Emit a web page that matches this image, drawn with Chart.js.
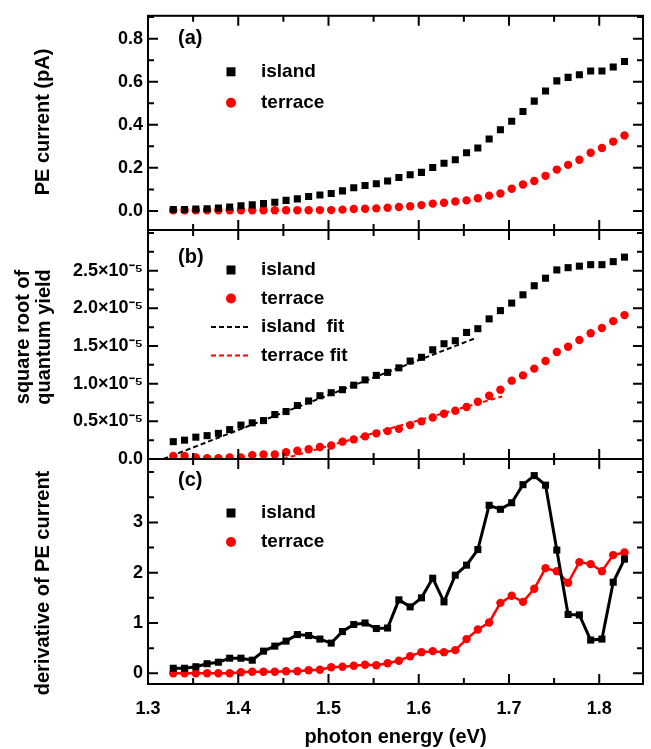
<!DOCTYPE html>
<html>
<head>
<meta charset="utf-8">
<script src="https://cdn.jsdelivr.net/npm/chart.js@4/dist/chart.umd.min.js"></script>
<style>
  body { margin: 0; background: #fff; }
  .wrap { position: relative; width: 651px; height: 749px; }
  canvas { position: absolute; left: 0; top: 0; }
</style>
</head>
<body>
<div class="wrap">
  <canvas id="panel-a" width="651" height="749"></canvas>
  <canvas id="panel-b" width="651" height="749"></canvas>
  <canvas id="panel-c" width="651" height="749"></canvas>
</div>
<script>
// photon energies of the measurement (eV)
const energy = [
  1.328, 1.3405, 1.353, 1.3655, 1.378, 1.3905, 1.403, 1.4155, 1.428, 1.4405,
  1.453, 1.4655, 1.478, 1.4905, 1.503, 1.5155, 1.528, 1.5405, 1.553, 1.5655,
  1.578, 1.5905, 1.603, 1.6155, 1.628, 1.6405, 1.653, 1.6655, 1.678, 1.6905,
  1.703, 1.7155, 1.728, 1.7405, 1.753, 1.7655, 1.778, 1.7905, 1.803, 1.8155, 1.828
]

// (a) PE current (pA)
const islandCurrent = [
  0.007, 0.007, 0.009, 0.010, 0.013, 0.018, 0.024, 0.028, 0.034, 0.040,
  0.049, 0.056, 0.067, 0.074, 0.081, 0.093, 0.108, 0.118, 0.126, 0.139,
  0.155, 0.168, 0.179, 0.202, 0.221, 0.238, 0.270, 0.292, 0.334, 0.377,
  0.416, 0.462, 0.510, 0.557, 0.604, 0.620, 0.632, 0.650, 0.650, 0.668, 0.694
]
const terraceCurrent = [
  0.003, 0.003, 0.003, 0.003, 0.003, 0.003, 0.003, 0.003, 0.003, 0.003,
  0.003, 0.003, 0.003, 0.004, 0.004, 0.006, 0.009, 0.010, 0.012, 0.015,
  0.018, 0.022, 0.027, 0.034, 0.038, 0.044, 0.049, 0.059, 0.071, 0.081,
  0.103, 0.123, 0.139, 0.163, 0.192, 0.214, 0.238, 0.270, 0.292, 0.322, 0.350
]

// (b) square root of quantum yield, in units of 1e-5
const islandRootYield = [
  0.23, 0.25, 0.29, 0.31, 0.34, 0.39, 0.45, 0.48, 0.51, 0.59,
  0.63, 0.71, 0.77, 0.84, 0.88, 0.92, 0.98, 1.05, 1.11, 1.15,
  1.21, 1.30, 1.35, 1.45, 1.53, 1.57, 1.68, 1.73, 1.86, 1.97,
  2.07, 2.18, 2.30, 2.40, 2.51, 2.54, 2.56, 2.58, 2.58, 2.62, 2.68
]
const terraceRootYield = [
  0.04, 0.04, 0.02, 0.01, 0.01, 0.02, 0.02, 0.05, 0.06, 0.06,
  0.09, 0.11, 0.13, 0.16, 0.18, 0.23, 0.26, 0.30, 0.34, 0.37,
  0.40, 0.45, 0.50, 0.55, 0.60, 0.64, 0.69, 0.76, 0.84, 0.92,
  1.04, 1.11, 1.20, 1.30, 1.42, 1.49, 1.58, 1.67, 1.74, 1.83, 1.91
]
const islandFitX = [1.317, 1.662]
const islandFitY = [0, 1.60]
const terraceFitX = [1.4495, 1.6925]
const terraceFitY = [0, 0.83]

// (c) derivative of PE current
const islandDerivative = [
  0.10, 0.10, 0.13, 0.19, 0.22, 0.30, 0.30, 0.26, 0.44, 0.54,
  0.64, 0.77, 0.75, 0.68, 0.60, 0.83, 0.97, 1.00, 0.89, 0.90,
  1.46, 1.32, 1.50, 1.89, 1.42, 1.95, 2.15, 2.46, 3.34, 3.26,
  3.39, 3.75, 3.93, 3.74, 2.45, 1.17, 1.16, 0.66, 0.68, 1.81, 2.27
]
const terraceDerivative = [
  0.00, 0.00, 0.00, 0.00, 0.00, 0.00, 0.02, 0.03, 0.03, 0.03,
  0.04, 0.04, 0.06, 0.07, 0.12, 0.13, 0.15, 0.17, 0.16, 0.20,
  0.25, 0.34, 0.42, 0.44, 0.42, 0.46, 0.68, 0.87, 1.01, 1.40,
  1.54, 1.42, 1.68, 2.09, 2.03, 1.80, 2.21, 2.17, 2.03, 2.35, 2.40
]

// tick values and their labels
const xTicks = [1.3, 1.4, 1.5, 1.6, 1.7, 1.8]
const xTickLabels = ['1.3', '1.4', '1.5', '1.6', '1.7', '1.8']
const currentTicks = [0, 0.2, 0.4, 0.6, 0.8]
const currentTickLabels = ['0.0', '0.2', '0.4', '0.6', '0.8']
const yieldTicks = [0, 0.5, 1, 1.5, 2, 2.5]
const yieldTickLabels = ['0.0', '0.5×10⁻⁵', '1.0×10⁻⁵', '1.5×10⁻⁵', '2.0×10⁻⁵', '2.5×10⁻⁵']
const derivTicks = [0, 1, 2, 3]
const derivTickLabels = ['0', '1', '2', '3']

const FONT = "'Liberation Sans', Arial, sans-serif"
const RED = '#ff0000'

Chart.defaults.font.family = FONT
Chart.defaults.color = '#000'

/**
 * Pairs x and y arrays into point objects.
 */
function points (xs, ys) {
  return xs.map((x, i) => ({ x, y: ys[i] }))
}

/**
 * Draws the boxed frame with inward major and minor ticks on all sides.
 */
const framePlugin = {
  id: 'frame',
  afterDraw (chart, args, opts) {
    const { ctx, chartArea: a, scales: { x, y } } = chart
    ctx.save()
    ctx.strokeStyle = '#000'
    ctx.lineWidth = 2
    ctx.strokeRect(a.left, a.top, a.right - a.left, a.bottom - a.top)
    ctx.beginPath()
    const stepTicks = (scale, step, majors, draw) => {
      const start = Math.ceil(scale.min / step - 1e-6)
      for (let k = start; k * step <= scale.max + 1e-9; k++) {
        const v = k * step
        const major = majors.some(m => Math.abs(m - v) < 1e-6)
        draw(scale.getPixelForValue(v), major ? 10 : 6)
      }
    }
    stepTicks(x, opts.xMinor, xTicks, (px, len) => {
      ctx.moveTo(px, a.top); ctx.lineTo(px, a.top + len)
      ctx.moveTo(px, a.bottom); ctx.lineTo(px, a.bottom - len)
    })
    stepTicks(y, opts.yMinor, opts.yMajor, (py, len) => {
      ctx.moveTo(a.left, py); ctx.lineTo(a.left + len, py)
      ctx.moveTo(a.right, py); ctx.lineTo(a.right - len, py)
    })
    ctx.stroke()
    ctx.restore()
  }
}

/**
 * Draws the rotated y title, the panel tag and the in-plot legend.
 */
const legendPlugin = {
  id: 'panelLegend',
  afterDraw (chart, args, opts) {
    const { ctx, chartArea: a } = chart
    ctx.save()
    ctx.fillStyle = '#000'
    ctx.textBaseline = 'middle'

    // y axis title, centred where the original sits
    ctx.save()
    ctx.font = `bold 20px ${FONT}`
    ctx.textAlign = 'center'
    ctx.translate(opts.titleX, opts.titleY)
    ctx.rotate(-Math.PI / 2)
    opts.title.forEach((line, i) => ctx.fillText(line, 0, (i - (opts.title.length - 1) / 2) * 21))
    ctx.restore()

    ctx.font = `bold 20px ${FONT}`
    ctx.fillText(opts.tag, a.left + 30, a.top + opts.tagY)
    ctx.font = `bold 19px ${FONT}`
    opts.items.forEach((item, i) => {
      const cy = a.top + opts.firstRow + i * opts.rowGap
      const cx = a.left + 83
      ctx.fillStyle = item.color
      ctx.strokeStyle = item.color
      if (item.marker === 'square') {
        ctx.fillRect(cx - 4.5, cy - 4.5, 9, 9)
      } else if (item.marker === 'circle') {
        ctx.beginPath()
        ctx.arc(cx, cy, 5, 0, Math.PI * 2)
        ctx.fill()
      } else {
        ctx.beginPath()
        ctx.setLineDash([5, 3])
        ctx.lineWidth = 2
        ctx.moveTo(a.left + 63, cy)
        ctx.lineTo(a.left + 103, cy)
        ctx.stroke()
        ctx.setLineDash([])
      }
      ctx.fillStyle = '#000'
      ctx.fillText(item.text, a.left + 113, cy)
    })
    ctx.restore()
  }
}

function islandSet (ys, line) {
  return {
    label: 'island',
    data: points(energy, ys),
    showLine: line,
    borderColor: '#000',
    borderWidth: 3,
    pointStyle: 'rect',
    pointRadius: 5,
    pointBorderWidth: 0,
    pointBackgroundColor: '#000',
    clip: 0
  }
}

function terraceSet (ys, line) {
  return {
    label: 'terrace',
    data: points(energy, ys),
    showLine: line,
    borderColor: RED,
    borderWidth: 2.5,
    pointStyle: 'circle',
    pointRadius: 4.2,
    pointBorderWidth: 0,
    pointBackgroundColor: RED,
    clip: 0
  }
}

function fitSet (xs, ys, color) {
  return {
    label: 'fit',
    data: points(xs, ys),
    showLine: true,
    borderColor: color,
    borderWidth: 2,
    borderDash: [5, 3],
    pointRadius: 0,
    clip: 0
  }
}

/**
 * Builds one of the three stacked panels.
 */
function makePanel (id, p) {
  const showX = !!p.showX
  return new Chart(document.getElementById(id), {
    type: 'line',
    data: { datasets: p.datasets },
    plugins: [framePlugin, legendPlugin],
    options: {
      responsive: false,
      animation: false,
      devicePixelRatio: 1,
      layout: { padding: { left: 0, right: 8, top: p.top, bottom: showX ? 0 : 749 - p.bottom } },
      scales: {
        x: {
          type: 'linear',
          min: 1.3,
          max: 1.8485,
          display: showX,
          grid: { display: false, drawTicks: false },
          border: { display: false },
          afterBuildTicks: scale => { scale.ticks = xTicks.map(value => ({ value })) },
          afterFit: scale => { if (showX) scale.height = 749 - p.bottom },
          ticks: {
            autoSkip: false,
            maxRotation: 0,
            padding: 14,
            font: { size: 18, weight: 'bold' },
            callback: (v, i) => xTickLabels[i]
          },
          title: {
            display: true,
            text: 'photon energy (eV)',
            font: { size: 20, weight: 'bold' },
            padding: { top: 0, bottom: 0 }
          }
        },
        y: {
          min: p.yMin,
          max: p.yMax,
          grid: { display: false, drawTicks: false },
          border: { display: false },
          afterBuildTicks: scale => { scale.ticks = p.yTicks.map(value => ({ value })) },
          afterFit: scale => { scale.width = 148 },
          ticks: {
            autoSkip: false,
            padding: 5,
            font: { size: 18, weight: 'bold' },
            callback: (v, i) => p.yLabels[i]
          }
        }
      },
      plugins: {
        legend: { display: false },
        tooltip: { enabled: false },
        frame: { xMinor: 0.05, yMinor: p.yMinor, yMajor: p.yTicks },
        panelLegend: p.legend
      }
    }
  })
}

makePanel('panel-a', {
  top: 5,
  bottom: 230,
  yMin: -0.0885,
  yMax: 0.906,
  yTicks: currentTicks,
  yLabels: currentTickLabels,
  yMinor: 0.1,
  datasets: [islandSet(islandCurrent, false), terraceSet(terraceCurrent, false)],
  legend: {
    title: ['PE current (pA)'],
    titleX: 43,
    titleY: 122,
    tag: '(a)',
    tagY: 23,
    firstRow: 56,
    rowGap: 31,
    items: [
      { text: 'island', marker: 'square', color: '#000' },
      { text: 'terrace', marker: 'circle', color: RED }
    ]
  }
})

makePanel('panel-b', {
  top: 230,
  bottom: 459,
  yMin: 0,
  yMax: 3.04,
  yTicks: yieldTicks,
  yLabels: yieldTickLabels,
  yMinor: 0.25,
  datasets: [
    islandSet(islandRootYield, false),
    terraceSet(terraceRootYield, false),
    fitSet(islandFitX, islandFitY, '#000'),
    fitSet(terraceFitX, terraceFitY, RED)
  ],
  legend: {
    title: ['square root of', 'quantum yield'],
    titleX: 34,
    titleY: 337,
    tag: '(b)',
    tagY: 27,
    firstRow: 40,
    rowGap: 28.5,
    items: [
      { text: 'island', marker: 'square', color: '#000' },
      { text: 'terrace', marker: 'circle', color: RED },
      { text: 'island  fit', marker: 'dash', color: '#000' },
      { text: 'terrace fit', marker: 'dash', color: RED }
    ]
  }
})

makePanel('panel-c', {
  top: 459,
  bottom: 684,
  showX: true,
  yMin: -0.213,
  yMax: 4.26,
  yTicks: derivTicks,
  yLabels: derivTickLabels,
  yMinor: 0.5,
  datasets: [islandSet(islandDerivative, true), terraceSet(terraceDerivative, true)],
  legend: {
    title: ['derivative of PE current'],
    titleX: 43,
    titleY: 583,
    tag: '(c)',
    tagY: 21,
    firstRow: 54,
    rowGap: 29,
    items: [
      { text: 'island', marker: 'square', color: '#000' },
      { text: 'terrace', marker: 'circle', color: RED }
    ]
  }
})
</script>
</body>
</html>
